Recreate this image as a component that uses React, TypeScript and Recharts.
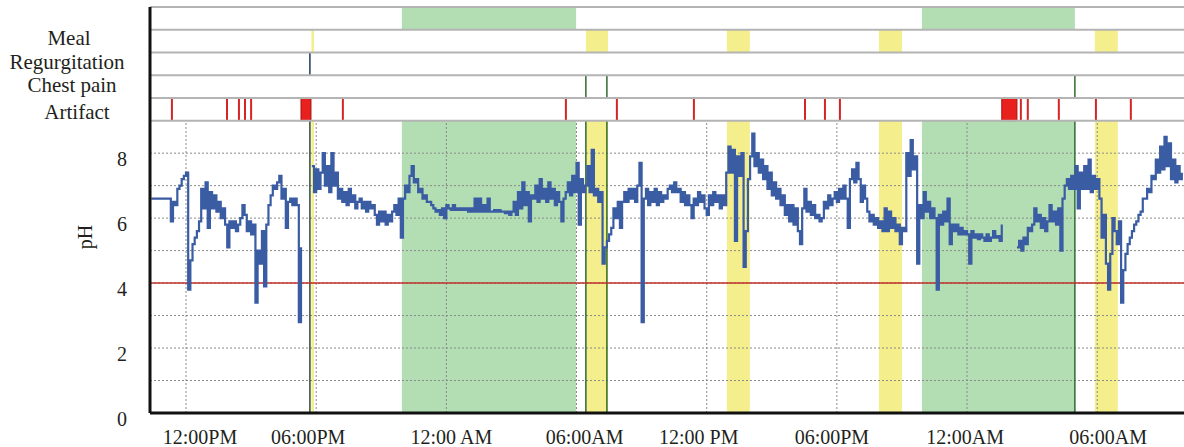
import { ComposedChart, Line, XAxis, YAxis, ReferenceArea, ReferenceLine } from "recharts";

const FONT = '"Liberation Serif", "Times New Roman", serif';

// time in hours from midnight of day 1
const timeTicks = [12, 18, 24, 30, 36, 42, 48, 54];
const timeLabels = ["12:00PM", "06:00PM", "12:00 AM", "06:00AM", "12:00 PM", "06:00PM", "12:00AM", "06:00AM"];
const phTicks = [0, 2, 4, 6, 8];
const phGrid = [1, 2, 3, 4, 5, 6, 7, 8];
const refluxThreshold = 4;

// event rows stacked above pH 9, bottom to top
const rowBounds = [9, 9.7, 10.4, 11.1, 11.8, 12.5];
const rowLabels = ["Artifact", "Chest pain", "Regurgitation", "Meal"];

const supinePeriods = [
  [21.95, 29.98],
  [45.92, 52.97],
];
const mealPeriods = [
  [17.78, 17.9],
  [30.43, 31.45],
  [36.93, 37.99],
  [43.94, 45.0],
  [53.89, 54.95],
];
const regurgitationEvents = [17.71];
const chestPainEvents = [30.43, 31.4, 52.97];
const artifactEvents = [11.35, 13.89, 14.44, 14.72, 15.0, 19.23, 29.51, 31.86, 35.41, 40.53, 41.45, 42.14, 50.48, 50.8, 52.23, 53.94, 55.55];
const artifactPeriods = [
  [17.3, 17.76],
  [49.6, 50.3],
];

// pH samples, one every 0.1 h from 10.4 h
const phStart = 10.4;
const phStep = 0.1;
const phValues = [
  6.6, 6.6, 6.6, 6.6, 6.6, 6.6, 6.6, 6.6, 6.6, 5.9,
  6.5, 6.4, 6.9, 7.0, 7.2, 7.3, 7.4, 3.8, 4.7, 5.2,
  5.4, 5.6, 5.9, 6.9, 6.3, 7.1, 5.7, 6.8, 6.3, 6.7,
  6.2, 6.5, 6.0, 6.3, 5.8, 5.1, 5.9, 5.7, 5.9, 5.6,
  5.8, 6.0, 6.4, 6.1, 5.6, 5.9, 5.5, 5.8, 3.4, 5.0,
  4.6, 5.6, 3.9, 5.8, 6.4, 6.7, 7.0, 6.9, 7.1, 7.3,
  6.6, 6.9, 5.7, 6.5, 6.6, 6.4, 6.6, 6.4, 2.8, 5.1,
  null, null, null, null, 7.6, 6.8, 7.5, 6.9, 7.4, 8.0,
  7.0, 7.6, 6.8, 8.0, 7.0, 7.4, 6.6, 6.9, 6.5, 6.8,
  6.4, 6.9, 6.5, 6.7, 6.3, 6.5, 6.6, 6.3, 6.5, 6.2,
  6.5, 6.3, 6.4, 6.1, 5.8, 6.2, 5.9, 6.2, 5.8, 6.1,
  5.9, 6.2, 6.4, 6.1, 6.6, 5.4, 6.6, 7.0, 6.8, 7.3,
  7.6, 7.1, 7.2, 6.8, 6.9, 6.6, 6.7, 6.5, 6.5, 6.4,
  6.3, 6.2, 6.25, 6.1, 6.3, 6.0, 6.4, 6.3, 6.25, 6.4,
  6.25, 6.3, 6.25, 6.3, 6.25, 6.3, 6.2, 6.3, 6.2, 6.6,
  6.2, 6.6, 6.2, 6.4, 6.2, 6.6, 6.2, 6.2, 6.25, 6.2,
  6.25, 6.2, 6.2, 6.15, 6.2, 6.1, 6.2, 6.5, 6.1, 6.8,
  6.3, 7.1, 6.4, 6.8, 5.9, 6.7, 6.6, 7.0, 6.5, 7.2,
  6.6, 6.9, 6.5, 7.1, 6.6, 6.9, 6.4, 6.8, 6.5, 5.9,
  6.6, 6.8, 7.1, 6.7, 7.3, 6.8, 7.7, 5.8, 7.2, 6.8,
  7.0, 7.6, 6.8, 8.1, 6.7, 6.9, 6.5, 6.8, 4.6, 5.1,
  5.3, 5.5, 5.7, 6.3, 6.0, 6.5, 5.7, 6.5, 6.8, 6.5,
  6.9, 6.6, 6.9, 6.5, 7.0, 7.7, 2.8, 6.6, 6.9, 6.4,
  6.8, 6.5, 6.9, 6.4, 6.8, 6.5, 6.7, 6.6, 6.9, 7.0,
  6.8, 7.1, 6.8, 6.9, 6.5, 6.8, 6.4, 6.7, 6.4, 6.0,
  6.6, 6.4, 6.8, 6.5, 6.7, 6.3, 6.1, 6.7, 6.4, 6.8,
  6.5, 6.7, 6.3, 6.7, 6.4, 7.4, 8.2, 7.4, 8.1, 5.3,
  7.9, 7.3, 8.0, 4.5, 5.6, 7.2, 7.9, 8.6, 7.6, 8.0,
  7.4, 7.8, 7.2, 7.6, 6.9, 7.4, 6.7, 7.1, 6.6, 6.9,
  6.4, 6.7, 6.1, 6.4, 5.9, 6.4, 5.8, 6.3, 5.6, 5.2,
  6.3, 6.9, 6.2, 6.5, 6.1, 6.4, 6.0, 6.1, 5.9, 6.0,
  6.5, 6.3, 6.7, 6.4, 6.6, 6.8, 6.5, 6.9, 6.6, 7.0,
  6.6, 5.7, 7.2, 7.5, 7.1, 7.7, 7.2, 6.5, 7.0, 6.6,
  6.2, 5.9, 6.1, 5.8, 6.0, 5.7, 5.9, 5.6, 6.3, 5.6,
  6.2, 5.7, 6.0, 5.6, 5.8, 5.2, 5.7, 5.6, 8.0, 7.3,
  8.4, 7.5, 7.9, 4.6, 6.4, 6.0, 6.8, 6.2, 6.5, 6.0,
  6.3, 6.0, 3.8, 6.1, 5.8, 6.2, 5.9, 6.6, 5.2, 5.8,
  5.6, 5.8, 5.5, 5.7, 5.5, 5.6, 5.5, 4.6, 5.6, 5.4,
  5.5, 5.35, 5.5, 5.4, 5.3, 5.5, 5.3, 5.4, 5.6, 5.4,
  5.45, 5.3, 5.8, null, null, null, null, null, null, 5.1,
  5.3, 5.0, 5.4, 5.2, 5.7, 5.6, 5.8, 6.3, 5.9, 6.1,
  5.7, 6.0, 5.6, 5.9, 6.4, 5.9, 6.2, 5.8, 6.3, 5.0,
  6.6, 7.0, 7.2, 6.9, 7.3, 6.9, 7.6, 6.3, 7.4, 6.9,
  7.6, 6.9, 7.8, 6.8, 7.3, 6.9, 7.2, 6.6, 5.4, 6.1,
  4.6, 3.8, 4.9, 6.0, 5.6, 5.2, 5.9, 3.4, 4.4, 4.9,
  5.2, 5.4, 5.6, 5.8, 5.9, 6.1, 6.2, 6.6, 6.6, 6.9,
  6.8, 7.3, 7.2, 7.8, 7.4, 8.2, 7.5, 8.5, 7.6, 8.3,
  7.2, 7.8, 7.1, 7.6, 7.2, 7.4,
];

const data = phValues.map((v, i) => ({ t: +(phStart + i * phStep).toFixed(2), ph: v }));

const rowCenters = rowBounds.slice(0, rowLabels.length).map((b) => +(b + 0.35).toFixed(2));

const GREEN = "#b3ddb3";
const YELLOW = "#f4ef8c";
const RED = "#d62424";
const TEXT = "#231f20";

// small hand nudges so the labels sit where the original printed them
const rowLabelX = [77, 72, 67, 69];
const rowLabelDy = [3, -2, -2, -3];
const timeLabelDx = [14, -8, 5, 8, -8, -5, -2, 11];

function PhTick(props: any) {
  const { x, y, payload } = props;
  const r = rowCenters.indexOf(payload.value);
  if (r >= 0) {
    return (
      <text x={rowLabelX[r]} y={y + rowLabelDy[r]} textAnchor="middle" dominantBaseline="central" fontFamily={FONT} fontSize={21} fill={TEXT}>
        {rowLabels[r]}
      </text>
    );
  }
  return (
    <text x={x} y={y + 6} textAnchor="end" dominantBaseline="central" fontFamily={FONT} fontSize={20} fill={TEXT}>
      {payload.value}
    </text>
  );
}

function TimeTick(props: any) {
  const { x, y, payload } = props;
  const k = timeTicks.indexOf(payload.value);
  return (
    <text x={x + (timeLabelDx[k] || 0)} y={y + 14} textAnchor="middle" fontFamily={FONT} fontSize={20} fill={TEXT}>
      {timeLabels[k]}
    </text>
  );
}

function PhLabel() {
  return (
    <text x={85} y={237} transform="rotate(-90 85 237)" textAnchor="middle" dominantBaseline="central" fontFamily={FONT} fontSize={20} fill={TEXT}>
      pH
    </text>
  );
}

export default function App() {
  const main = rowBounds[0];
  return (
    <div style={{ position: "absolute", left: 0, top: 0, background: "#fff" }}>
      <ComposedChart width={1184} height={447} data={data} margin={{ top: 7, right: 0, bottom: 4, left: 0 }}>
        <XAxis
          dataKey="t"
          type="number"
          domain={[10.34, 58]}
          allowDataOverflow
          ticks={timeTicks}
          interval={0}
          tickLine={false}
          tickMargin={11}
          height={30}
          axisLine={{ stroke: "#111", strokeWidth: 3 }}
          tick={<TimeTick />}
        />
        <YAxis
          type="number"
          domain={[0, rowBounds[rowBounds.length - 1]]}
          allowDataOverflow
          ticks={[...phTicks, ...rowCenters]}
          interval={0}
          width={150}
          tickLine={false}
          tickMargin={17}
          axisLine={{ stroke: "#111", strokeWidth: 3 }}
          tick={<PhTick />}
          label={<PhLabel />}
        />

        {phGrid.map((g) => (
          <ReferenceLine key={`gy${g}`} y={g} stroke="#8a8a8a" strokeDasharray="2 2" strokeWidth={1} />
        ))}
        {timeTicks.map((t) => (
          <ReferenceLine key={`gx${t}`} segment={[{ x: t, y: 0 }, { x: t, y: main }]} stroke="#8a8a8a" strokeDasharray="2 2" strokeWidth={1} />
        ))}

        {supinePeriods.map(([a, b], i) => (
          <ReferenceArea key={`s${i}`} x1={a} x2={b} y1={0} y2={main} fill={GREEN} fillOpacity={1} stroke="none" />
        ))}
        {supinePeriods.map(([a, b], i) => (
          <ReferenceArea key={`sr${i}`} x1={a} x2={b} y1={rowBounds[4]} y2={rowBounds[5]} fill={GREEN} fillOpacity={1} stroke="none" />
        ))}
        {mealPeriods.map(([a, b], i) => (
          <ReferenceArea key={`m${i}`} x1={a} x2={b} y1={0} y2={main} fill={YELLOW} fillOpacity={1} stroke="none" />
        ))}
        {mealPeriods.map(([a, b], i) => (
          <ReferenceArea key={`mr${i}`} x1={a} x2={b} y1={rowBounds[3]} y2={rowBounds[4]} fill={YELLOW} fillOpacity={1} stroke="none" />
        ))}
        {artifactPeriods.map(([a, b], i) => (
          <ReferenceArea key={`ar${i}`} x1={a} x2={b} y1={rowBounds[0]} y2={rowBounds[1]} fill="#e8201e" fillOpacity={1} stroke="#a81616" strokeWidth={1} />
        ))}
        {artifactEvents.map((t, i) => (
          <ReferenceLine key={`a${i}`} segment={[{ x: t, y: rowBounds[0] }, { x: t, y: rowBounds[1] }]} stroke={RED} strokeWidth={2} />
        ))}

        {regurgitationEvents.map((t, i) => (
          <ReferenceLine key={`r${i}`} segment={[{ x: t, y: 0 }, { x: t, y: main }]} stroke="#2d4a3a" strokeWidth={1.5} />
        ))}
        {regurgitationEvents.map((t, i) => (
          <ReferenceLine key={`rr${i}`} segment={[{ x: t, y: rowBounds[2] }, { x: t, y: rowBounds[3] }]} stroke="#1e3a5c" strokeWidth={1.5} />
        ))}
        {chestPainEvents.map((t, i) => (
          <ReferenceLine key={`c${i}`} segment={[{ x: t, y: 0 }, { x: t, y: main }]} stroke="#2f6b2f" strokeWidth={1.5} />
        ))}
        {chestPainEvents.map((t, i) => (
          <ReferenceLine key={`cr${i}`} segment={[{ x: t, y: rowBounds[1] }, { x: t, y: rowBounds[2] }]} stroke="#2f6b2f" strokeWidth={1.5} />
        ))}

        {rowBounds.map((b) => (
          <ReferenceLine key={`row${b}`} y={b} stroke="#b4b4b4" strokeWidth={2} />
        ))}
        <ReferenceLine y={refluxThreshold} stroke="#c0302a" strokeWidth={1.5} />

        <Line
          dataKey="ph"
          type="stepAfter"
          stroke="#3a5ca3"
          strokeWidth={2.2}
          dot={false}
          isAnimationActive={false}
        />
      </ComposedChart>
    </div>
  );
}
